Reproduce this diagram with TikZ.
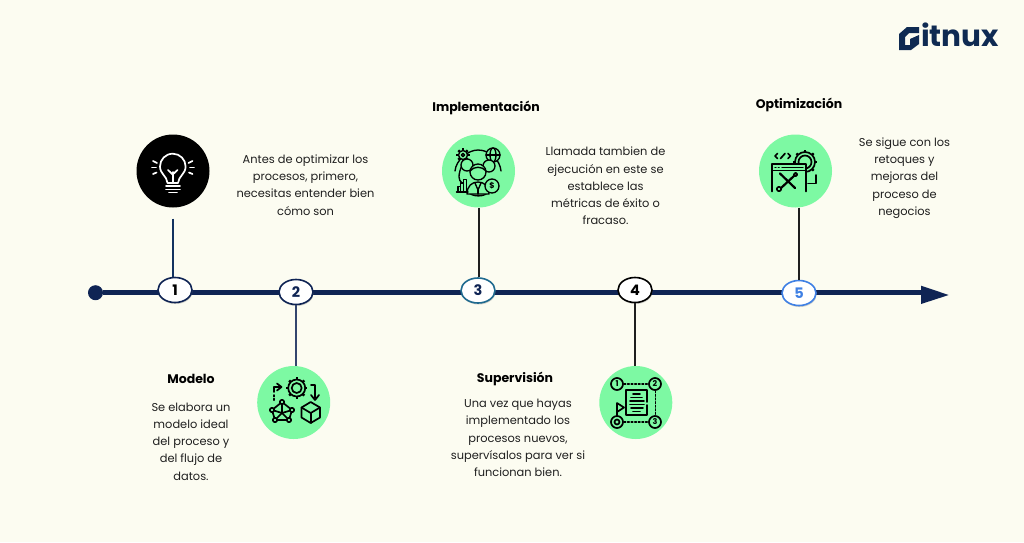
\documentclass[tikz,border=0pt]{standalone}
\usepackage{fontspec}
\setmainfont{Poppins}
\usetikzlibrary{shadows,arrows.meta,shapes.geometric}
\definecolor{bgc}{HTML}{FCFCF1}
\definecolor{navy}{HTML}{0F2454}
\definecolor{mint}{HTML}{7DF9A3}
\definecolor{teal3}{HTML}{1F6A8F}
\definecolor{blue5}{HTML}{3F80E4}
\definecolor{ink}{HTML}{1F1F1F}
\definecolor{logo}{HTML}{0F2A52}
\newcommand{\cogat}[4]{% x, y, radius, fill
  \foreach \a in {0,45,...,315}
    \draw[line width=2.4pt,line cap=butt] (#1,#2) ++(\a:#3) -- ++(\a:2.2);
  \draw[fill=#4] (#1,#2) circle[radius=#3];
}
\tikzset{
 body/.style={align=center,font=\fontsize{11.4pt}{17.25pt}\selectfont,text=ink,inner sep=0pt},
 ttl/.style={font=\fontsize{12.5pt}{14pt}\selectfont\bfseries,text=black,inner sep=0pt},
 stepring/.style={ellipse,draw=#1,line width=1.6pt,fill=white,minimum width=34pt,minimum height=25pt,inner sep=0pt,
   font=\fontsize{14.5pt}{14pt}\selectfont\bfseries,drop shadow={shadow xshift=0.6pt,shadow yshift=-1.5pt,opacity=.35}},
 disc/.style={circle,minimum size=73pt,inner sep=0pt,fill=mint},
 conn/.style={line width=2pt,draw=#1},
 ico/.style={draw=black,line width=1.7pt,line cap=round,line join=round},
 wico/.style={draw=white,line width=1.7pt,line cap=round,line join=round},
 mini/.style={font=\fontsize{8pt}{8pt}\selectfont\bfseries,text=black,inner sep=0pt},
}
\begin{document}
\begin{tikzpicture}[x=1pt,y=-1pt]
\useasboundingbox (0,0) rectangle (1024,542);
\fill[bgc] (0,0) rectangle (1024,542);

% axis
\node[circle,fill=navy,minimum size=15pt,inner sep=0pt] (start) at (95.5,292.7) {};
\coordinate (axisend) at (925,292.7);
\draw[navy,line width=4.6pt] (start) -- (axisend);
\fill[navy] (921,285.7) -- (948.7,295) -- (921,304) -- cycle;

% discs
\node[disc,fill=black] (c1) at (173,171) {};
\node[disc] (c2) at (293.7,402.5) {};
\node[disc] (c3) at (478.5,171) {};
\node[disc] (c4) at (635.8,402.5) {};
\node[disc] (c5) at (795.5,171) {};

% step markers
\node[stepring=navy,text=black] (e1) at (175,290) {1};
\node[stepring=navy,text=navy] (e2) at (296,292) {2};
\node[stepring=teal3,text=navy] (e3) at (478,290.5) {3};
\node[stepring=black,text=black] (e4) at (635,290) {4};
\node[stepring=blue5,text=blue5] (e5) at (799,293) {5};

% connectors
\draw[conn={navy!80!teal3}] ([yshift=-11pt]c1.south) -- (c1.south |- e1.north);
\draw[conn={navy!85!white}] (e2.south) -- (e2.south |- c2.north);
\draw[conn=ink] (c3.south) -- (c3.south |- e3.north);
\draw[conn=ink] (e4.south) -- (e4.south |- c4.north);
\draw[conn=ink] (e5.north |- c5.south) -- (e5.north);

% titles
\node[ttl] (t3) at (486,107.5) {Implementación};
\node[ttl] (t5) at (799,104.5) {Optimización};
\node[ttl] (t1) at (191,379) {Modelo};
\node[ttl] (t4) at (515,379) {Supervisión};

% bodies
\node[body] (b2) at (305.5,185) {Antes de optimizar los\\procesos, primero,\\necesitas entender bien\\cómo son};
\node[body] (b3) at (605.5,186) {Llamada tambien de\\ejecución en este se\\establece las\\métricas de éxito o\\fracaso.};
\node[body] (b5) at (904.5,178) {Se sigue con los\\retoques y\\mejoras del\\proceso de\\negocios};
\node[body] (b1) at (191,441.5) {Se elabora un\\modelo ideal\\del proceso y\\del flujo de\\datos.};
\node[body] (b4) at (518,438) {Una vez que hayas\\implementado los\\procesos nuevos,\\supervísalos para ver si\\funcionan bien.};

% bulb icon
\begin{scope}[wico]
\draw (167.5,183) .. controls (167,176) and (160,174) .. (160,166.5)
   .. controls (160,159.5) and (165.5,153.7) .. (172.8,153.7)
   .. controls (180,153.7) and (185.6,159.5) .. (185.6,166.5)
   .. controls (185.6,174) and (178.6,176) .. (178,183) -- cycle;
\draw (166,186) -- (180,186);
\draw (166,189.5) -- (180,189.5);
\draw (169,192.5) -- (177,192.5);
\draw (172.7,183) -- (172.7,172);
\draw (168,170) -- (172.7,174.5) -- (177.5,170);
\draw (153,161) -- (157,163);\draw (152,167.5) -- (156,167.5);\draw (153,174) -- (156.5,172.5);
\draw (192.5,161) -- (188.5,163);\draw (194,167.5) -- (190,167.5);\draw (192.5,174) -- (189,172.5);
\end{scope}

% icon 2: process model
\begin{scope}[ico]
\cogat{296.7}{388}{8.5}{mint}
\draw (296.7,388) circle[radius=5];
\draw (274,387) -- (281,387);
\draw (277,383.5) -- (281.5,387) -- (277,390.5);
\draw (274,387) -- (274,392);
\draw[dotted,line width=1.6pt] (274,395) -- (274,401);
\draw (311,385) -- (315,385) -- (315,398);
\draw (311,395) -- (315,400) -- (319,395);
% network
\draw (282,402) -- (272,410) -- (275,420) -- (289,420) -- (292,410) -- cycle;
\draw (272,410) -- (282,413) -- (292,410);
\draw (282,413) -- (275,420);\draw (282,413) -- (289,420);\draw (282,402) -- (282,413);
\foreach \p in {(282,402),(272,410),(292,410),(275,420),(289,420)}
  \draw[fill=mint] \p circle[radius=2.2];
% cube
\draw (310.7,402) -- (320,407.5) -- (320,417.5) -- (310.7,423) -- (301.5,417.5) -- (301.5,407.5) -- cycle;
\draw (301.5,407.5) -- (310.7,413) -- (320,407.5);
\draw (310.7,413) -- (310.7,423);
\end{scope}

% icon 3: team
\begin{scope}[ico,line width=1.35pt]
\draw (455,171) .. controls (456,160) and (468,150) .. (478,150) .. controls (490,150) and (500,160) .. (501,171);
\draw (462,165) .. controls (458,175) and (458,180) .. (462,183);
\draw (468,192) .. controls (472,197) and (484,197) .. (487,193);
\cogat{463}{155}{4.5}{mint}
\draw (463,155) circle[radius=1.6];
\draw[fill=mint] (493,155) circle[radius=7];
\draw (493,155) ellipse[x radius=3,y radius=7];
\draw (486,155) -- (500,155);
\draw[fill=mint] (467,165) circle[radius=6];
\draw[fill=mint] (489,166) circle[radius=6];
\draw[fill=mint] (478,172) circle[radius=8];
\draw (470,171) .. controls (474,166) and (482,166) .. (486,171);
\draw[fill=mint] (467,194) .. controls (467,186) and (472,182) .. (478,182) .. controls (484,182) and (489,186) .. (489,194) -- cycle;
\draw (475,183) -- (478,190) -- (481,183);
\draw (478,190) -- (478,194);
\draw[fill=mint] (492,186) circle[radius=7];
\node[mini] (dollar) at (492,186) {\$};
\draw (458,192) -- (458,186.5) -- (460.5,186.5) -- (460.5,192);
\draw (460.5,192) -- (460.5,183) -- (463.5,183) -- (463.5,192);
\draw (463.5,192) -- (463.5,179.5) -- (466.5,179.5) -- (466.5,192);
\draw (456.5,192) -- (468,192);
\end{scope}

% icon 4: document
\begin{scope}[ico]
\draw (617,384) circle[radius=6];
\draw (655,384) circle[radius=6];
\draw (655,422) circle[radius=6];
\draw (617,422) circle[radius=6];
\draw (617,422) circle[radius=2.5];
\node[mini] (n1) at (617,384) {1};
\node[mini] (n2) at (655,384) {2};
\node[mini] (n3) at (655,422) {3};
\draw[dotted,line width=1.6pt] (624,384) -- (648,384);
\draw[dotted,line width=1.6pt] (655.5,391) -- (655.5,415);
\draw[dotted,line width=1.6pt] (624,422) -- (648,422);
\draw (647,402) -- (647,390) -- (626,390) -- (626,415) -- (647,415) -- (647,405);
\foreach \y/\a/\b in {394/633/640,397.5/631/642,401/630/644,404.5/630/644,408/631/643,411.5/633/640}
  \draw[line width=1.6pt] (\a,\y) -- (\b,\y);
\draw (617,416) -- (617,403) -- (624,407.5) -- (617,412);
\end{scope}

% icon 5: tools window
\begin{scope}[ico]
\cogat{805}{162}{10}{none}
\draw (805,162) circle[radius=6.5];
\fill[mint] (771,164) rectangle (806,192);
\draw (772,191.5) -- (772,164) -- (806,164) -- (806,191.5);
\draw (772,170.5) -- (806,170.5);
\draw[line width=1.1pt] (782,167.2) -- (803,167.2);
\draw[dotted,line width=1.1pt] (775,167.2) -- (780,167.2);
\draw[line width=2.2pt] (780,173.5) -- (795,188);
\draw[line width=2.2pt] (795,175) -- (781,188);
\draw[fill=mint] (795.5,174.5) circle[radius=1.8];
\draw[fill=mint] (779,189) circle[radius=2.2];
\draw (777.5,158.5) -- (775,156) -- (777.5,153.5);
\draw (788,158.5) -- (790.5,156) -- (788,153.5);
\draw (780.5,158.5) -- (785,153.5);
\draw (816,175) -- (816,183.5) -- (808,183.5);
\end{scope}

% logo
\fill[logo] (899,34) -- (907,27) -- (919,27) -- (919,33) -- (909,33) -- (905,37) -- (905,45) -- (910,45) -- (910,39) -- (919,35) -- (919,44) -- (911,50) -- (899,50) -- cycle;
\node[font=\fontsize{29.5pt}{29.5pt}\selectfont\bfseries,text=logo,inner sep=0pt,anchor=base west] (brand) at (921,46) {itnux};
\end{tikzpicture}
\end{document}
